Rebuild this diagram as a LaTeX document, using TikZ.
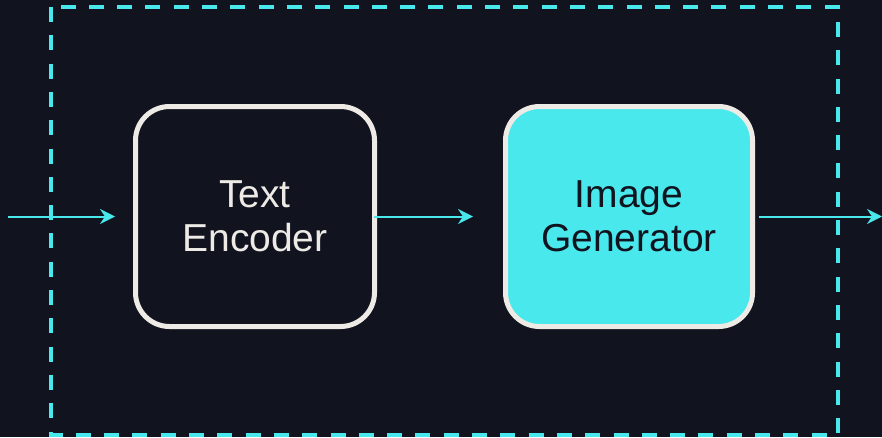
\documentclass[tikz,border=0pt]{standalone}
\usepackage{fontspec}
\setmainfont{Liberation Sans}
\usetikzlibrary{arrows.meta}
\definecolor{bg}{HTML}{11131F}
\definecolor{cyanc}{HTML}{48E8EC}
\definecolor{boxline}{HTML}{EEEBE6}
\begin{document}
\begin{tikzpicture}[x=1pt,y=-1pt,
  blk/.style={draw=boxline, line width=5pt, rounded corners=34pt,
    minimum width=#1, minimum height=220pt, inner sep=0pt, align=center,
    font=\fontsize{39}{44}\selectfont},
  conn/.style={draw=cyanc, line width=2pt, -{Stealth[length=15pt,width=15pt,inset=5pt]}},
  frame/.style={draw=cyanc, line width=3.5pt, dash pattern=on 15pt off 13.3pt}]
\fill[bg] (0,0) rectangle (882,437);
\useasboundingbox (0,0) rectangle (882,437);
\draw[frame] (51,7) rectangle (838,435);
\node[blk=239pt, text=boxline] (te) at (255,216.5) {Text\\Encoder};
\node[blk=247pt, fill=cyanc, text=bg] (ig) at (629,216.5) {Image\\Generator};
\coordinate (in) at (8,216.5);
\coordinate (out) at (882,216.5);
\draw[conn, shorten >=18pt] (in) -- (te.west);
\draw[conn, shorten <=-3pt, shorten >=30pt] (te.east) -- (ig.west);
\draw[conn, shorten <=4pt] (ig.east) -- (out);
\end{tikzpicture}
\end{document}
